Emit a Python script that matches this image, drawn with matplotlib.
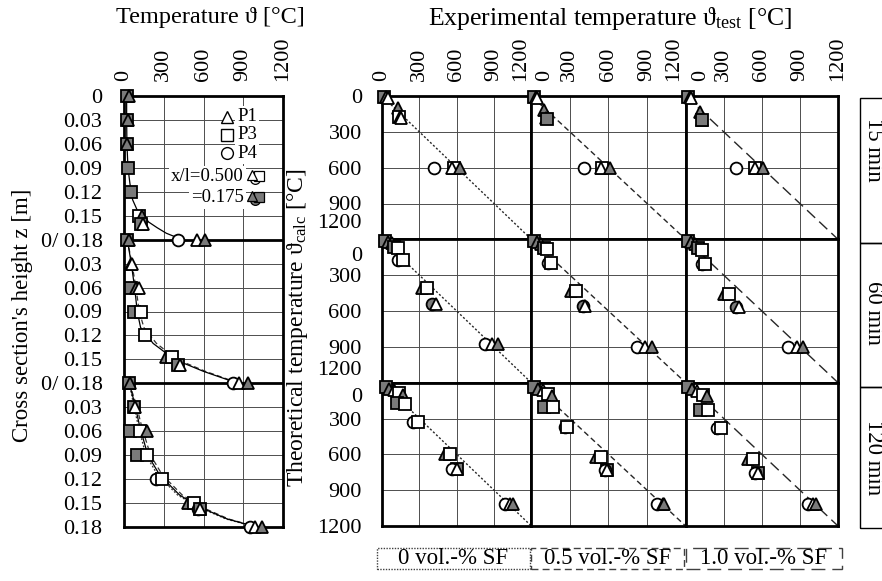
import matplotlib.pyplot as plt
from matplotlib.patches import Rectangle
from matplotlib.transforms import ScaledTranslation

plt.rcParams['font.family'] = ['Liberation Serif', 'DejaVu Serif']
plt.rcParams['mathtext.fontset'] = 'custom'
plt.rcParams['mathtext.rm'] = 'Liberation Serif'
plt.rcParams['mathtext.it'] = 'Liberation Serif:italic'
plt.rcParams['font.size'] = 16

# ---------------- data ----------------
times = ['15 min', '60 min', '120 min']
fibre_contents = ['0 vol.-% SF', '0.5 vol.-% SF', '1.0 vol.-% SF']
temp_ticks = [0, 300, 600, 900, 1200]
z_ticks = [0, 0.03, 0.06, 0.09, 0.12, 0.15, 0.18]

# measured profiles over the height: (x/l, sensor, z [m], T [°C])
profile_15 = [
    ('0.175', 'P3', 0.00, 25), ('0.175', 'P1', 0.00, 35),
    ('0.175', 'P3', 0.03, 25), ('0.175', 'P1', 0.03, 30),
    ('0.175', 'P3', 0.06, 20), ('0.175', 'P1', 0.06, 25),
    ('0.175', 'P3', 0.09, 30),
    ('0.175', 'P3', 0.12, 55),
    ('0.500', 'P3', 0.15, 110), ('0.175', 'P1', 0.15, 135),
    ('0.175', 'P3', 0.16, 125), ('0.500', 'P1', 0.16, 140),
    ('0.500', 'P4', 0.18, 410), ('0.500', 'P1', 0.18, 550), ('0.175', 'P1', 0.18, 610),
]
profile_60 = [
    ('0.175', 'P3', 0.00, 25), ('0.175', 'P1', 0.00, 35),
    ('0.175', 'P1', 0.03, 55), ('0.500', 'P1', 0.03, 62),
    ('0.175', 'P3', 0.06, 50), ('0.175', 'P1', 0.06, 90), ('0.500', 'P1', 0.06, 115),
    ('0.175', 'P3', 0.09, 77), ('0.500', 'P3', 0.09, 130),
    ('0.500', 'P3', 0.12, 160),
    ('0.175', 'P1', 0.147, 320), ('0.500', 'P3', 0.147, 360),
    ('0.175', 'P3', 0.157, 405), ('0.500', 'P1', 0.157, 420),
    ('0.500', 'P4', 0.18, 820), ('0.500', 'P1', 0.18, 870), ('0.175', 'P1', 0.18, 935),
]
profile_120 = [
    ('0.175', 'P3', 0.00, 40), ('0.175', 'P1', 0.00, 45),
    ('0.175', 'P3', 0.03, 75), ('0.500', 'P1', 0.03, 85),
    ('0.175', 'P3', 0.06, 45), ('0.500', 'P3', 0.06, 120), ('0.175', 'P1', 0.06, 175),
    ('0.175', 'P3', 0.09, 95), ('0.500', 'P3', 0.09, 170),
    ('0.500', 'P4', 0.12, 245), ('0.500', 'P3', 0.12, 285),
    ('0.175', 'P1', 0.15, 485), ('0.500', 'P3', 0.15, 525),
    ('0.500', 'P4', 0.158, 555), ('0.175', 'P3', 0.158, 575), ('0.500', 'P1', 0.158, 570),
    ('0.500', 'P4', 0.18, 950), ('0.500', 'P1', 0.18, 990), ('0.175', 'P1', 0.18, 1040),
]

# calculated profiles
curve_z_15 = [0, 0.03, 0.06, 0.09, 0.11, 0.13, 0.145, 0.155, 0.165, 0.172, 0.18]
curve_T_15 = [20, 20, 22, 30, 45, 65, 105, 160, 250, 320, 440]
curve_z_60 = [0, 0.03, 0.06, 0.09, 0.11, 0.13, 0.15, 0.165, 0.18]
curve_T_60_solid = [25, 55, 80, 100, 125, 220, 380, 600, 860]
curve_T_60_dashed = [25, 60, 90, 115, 150, 245, 400, 615, 870]
curve_z_120 = [0, 0.025, 0.055, 0.09, 0.115, 0.14, 0.155, 0.17, 0.18]
curve_T_120_solid = [40, 80, 120, 180, 270, 420, 570, 780, 1000]
curve_T_120_dashed = [40, 90, 135, 200, 290, 440, 585, 790, 1005]
curve_T_120_dotted = [40, 70, 110, 165, 255, 405, 560, 770, 995]

# experimental vs. theoretical: (x/l, sensor, T_test, T_calc)
cmp_15_sf00 = [
    ('0.175', 'P3', 20, 5), ('0.175', 'P1', 35, 10), ('0.500', 'P1', 45, 15),
    ('0.175', 'P1', 130, 100), ('0.500', 'P3', 135, 175), ('0.175', 'P1', 145, 175),
    ('0.500', 'P1', 150, 185),
    ('0.500', 'P4', 420, 600), ('0.500', 'P3', 575, 600), ('0.500', 'P1', 565, 600),
    ('0.175', 'P1', 630, 600),
]
cmp_15_sf05 = [
    ('0.175', 'P3', 20, 5), ('0.175', 'P1', 35, 10), ('0.500', 'P1', 45, 15),
    ('0.175', 'P1', 100, 115), ('0.500', 'P1', 115, 185), ('0.175', 'P3', 120, 190),
    ('0.500', 'P4', 413, 600), ('0.500', 'P3', 550, 600), ('0.500', 'P1', 545, 600),
    ('0.175', 'P1', 610, 600),
]
cmp_15_sf10 = [
    ('0.175', 'P3', 20, 5), ('0.175', 'P1', 35, 10), ('0.500', 'P1', 45, 15),
    ('0.175', 'P1', 110, 130), ('0.500', 'P1', 125, 200), ('0.175', 'P3', 130, 205),
    ('0.500', 'P4', 400, 600), ('0.500', 'P3', 550, 600), ('0.500', 'P1', 545, 600),
    ('0.175', 'P1', 610, 600),
]
cmp_60_sf00 = [
    ('0.175', 'P3', 25, 10), ('0.175', 'P1', 50, 20), ('0.500', 'P1', 80, 30),
    ('0.175', 'P3', 100, 60), ('0.500', 'P3', 130, 70),
    ('0.500', 'P4', 130, 175), ('0.500', 'P3', 170, 175),
    ('0.175', 'P1', 320, 405), ('0.500', 'P3', 360, 405),
    ('0.175', 'P4', 400, 545), ('0.500', 'P1', 430, 545),
    ('0.500', 'P4', 830, 880), ('0.500', 'P1', 885, 880), ('0.175', 'P1', 935, 880),
]
cmp_60_sf05 = [
    ('0.175', 'P3', 20, 10), ('0.175', 'P1', 45, 20), ('0.500', 'P1', 75, 35),
    ('0.175', 'P3', 95, 70), ('0.500', 'P3', 125, 80),
    ('0.500', 'P4', 130, 195), ('0.500', 'P3', 155, 195),
    ('0.175', 'P1', 310, 435), ('0.500', 'P3', 350, 435),
    ('0.175', 'P4', 400, 560), ('0.500', 'P1', 420, 560),
    ('0.500', 'P4', 825, 900), ('0.500', 'P1', 880, 900), ('0.175', 'P1', 935, 900),
]
cmp_60_sf10 = [
    ('0.175', 'P3', 20, 10), ('0.175', 'P1', 45, 25), ('0.500', 'P1', 75, 40),
    ('0.175', 'P3', 95, 75), ('0.500', 'P3', 125, 90),
    ('0.500', 'P4', 130, 210), ('0.500', 'P3', 150, 210),
    ('0.175', 'P1', 305, 460), ('0.500', 'P3', 345, 460),
    ('0.175', 'P4', 400, 570), ('0.500', 'P1', 420, 570),
    ('0.500', 'P4', 805, 900), ('0.500', 'P1', 875, 900), ('0.175', 'P1', 925, 900),
]
cmp_120_sf00 = [
    ('0.175', 'P3', 30, 40), ('0.175', 'P1', 60, 50), ('0.500', 'P1', 100, 60),
    ('0.500', 'P3', 140, 90), ('0.175', 'P1', 170, 100),
    ('0.175', 'P3', 120, 170), ('0.500', 'P3', 185, 175),
    ('0.500', 'P4', 250, 330), ('0.500', 'P3', 290, 330),
    ('0.175', 'P1', 510, 595), ('0.500', 'P3', 545, 595),
    ('0.175', 'P3', 600, 720), ('0.500', 'P4', 565, 720), ('0.500', 'P1', 600, 720),
    ('0.500', 'P4', 990, 1015), ('0.500', 'P1', 1030, 1015), ('0.175', 'P1', 1055, 1015),
]
cmp_120_sf05 = [
    ('0.175', 'P3', 20, 40), ('0.175', 'P1', 50, 50), ('0.500', 'P1', 90, 65),
    ('0.500', 'P3', 130, 95), ('0.175', 'P1', 160, 110),
    ('0.175', 'P3', 100, 200), ('0.500', 'P3', 165, 200),
    ('0.500', 'P4', 260, 370), ('0.500', 'P3', 280, 370),
    ('0.175', 'P1', 505, 625), ('0.500', 'P3', 545, 625),
    ('0.175', 'P3', 590, 735), ('0.500', 'P4', 570, 735), ('0.500', 'P1', 590, 735),
    ('0.500', 'P4', 975, 1015), ('0.500', 'P1', 1020, 1015), ('0.175', 'P1', 1035, 1015),
]
cmp_120_sf10 = [
    ('0.175', 'P3', 20, 40), ('0.175', 'P1', 50, 55), ('0.500', 'P1', 90, 70),
    ('0.500', 'P3', 140, 100), ('0.175', 'P1', 170, 115),
    ('0.175', 'P3', 110, 230), ('0.500', 'P3', 175, 230),
    ('0.500', 'P4', 250, 380), ('0.500', 'P3', 275, 380),
    ('0.175', 'P1', 490, 635), ('0.500', 'P3', 530, 635),
    ('0.175', 'P3', 570, 755), ('0.500', 'P4', 545, 755), ('0.500', 'P1', 570, 755),
    ('0.500', 'P4', 960, 1015), ('0.500', 'P1', 1000, 1015), ('0.175', 'P1', 1030, 1015),
]

# ---------------- styles ----------------
MARKERS = {'P1': '^', 'P3': 's', 'P4': 'o'}
FILLS = {'0.500': 'white', '0.175': '#7a7a7a'}
DIAG_STYLES = [(0, (1.5, 1.5)), (0, (4, 2.5)), (0, (8, 4))]
GRID = dict(color='0.3', lw=0.7)


def draw_point(ax, x, y, xl, sensor, ms=8.5, **kw):
    ax.plot(x, y, ls='none', marker=MARKERS[sensor], ms=ms, mfc=FILLS[xl],
            mec='black', mew=1.3, clip_on=False, zorder=4, **kw)


def shift(label, dx, dy, fig):
    # move a tick label by (dx, dy) pixels, positive dy = down
    label.set_transform(label.get_transform() +
                        ScaledTranslation(dx / 100, -dy / 100, fig.dpi_scale_trans))


fig = plt.figure(figsize=(8.82, 5.81), dpi=100)
W, H = 882, 581

# ---------------- left panel: profiles over the height ----------------
ax_l = fig.add_axes([124 / W, 1 - 527 / H, 159 / W, 431 / H])
ax_l.set_xlim(0, 1200)
ax_l.set_ylim(0.54, 0)
ax_l.set_xticks(temp_ticks)
ax_l.set_xticklabels([str(t) for t in temp_ticks])
ypos, ylab = [], []
for b in range(3):
    for z in z_ticks[:-1]:
        ypos.append(z + 0.18 * b)
        ylab.append('0' if z == 0 else f'{z:.2f}')
ypos.append(0.54)
ylab.append('0.18')
ylab[6] = '0/ 0.18'
ylab[12] = '0/ 0.18'
ax_l.set_yticks(ypos)
ax_l.set_yticklabels(ylab)
ax_l.xaxis.tick_top()
ax_l.tick_params(axis='x', length=0, pad=11, labelrotation=90)
ax_l.tick_params(axis='y', length=0, pad=15.5)
ax_l.grid(True, **GRID)
for sp in ax_l.spines.values():
    sp.set_linewidth(2)
ax_l.axhline(0.18, color='black', lw=2, zorder=3)
ax_l.axhline(0.36, color='black', lw=2, zorder=3)

ax_l.plot(curve_T_15, curve_z_15, color='black', lw=0.9, zorder=2)
ax_l.plot(curve_T_60_dashed, [z + 0.18 for z in curve_z_60], color='0.2', lw=0.9,
          ls=(0, (4, 2.5)), zorder=2)
ax_l.plot(curve_T_60_solid, [z + 0.18 for z in curve_z_60], color='black', lw=0.9, zorder=2)
ax_l.plot(curve_T_120_dashed, [z + 0.36 for z in curve_z_120], color='0.2', lw=0.9,
          ls=(0, (4, 2.5)), zorder=2)
ax_l.plot(curve_T_120_dotted, [z + 0.36 for z in curve_z_120], color='0.2', lw=0.9,
          ls=(0, (1.5, 1.5)), zorder=2)
ax_l.plot(curve_T_120_solid, [z + 0.36 for z in curve_z_120], color='black', lw=0.9, zorder=2)

for b, prof in enumerate([profile_15, profile_60, profile_120]):
    for xl, sensor, z, T in prof:
        draw_point(ax_l, T, z + 0.18 * b, xl, sensor)


# legend inside the left panel
def lx(px):
    return (px - 124) / 159


def ly(py):
    return 1 - (py - 96) / 431


for sensor, py in [('P1', 117), ('P3', 135), ('P4', 153)]:
    ax_l.plot(lx(227), ly(py), transform=ax_l.transAxes, ls='none',
              marker=MARKERS[sensor], ms=8.5, mfc='white', mec='black', mew=1.0,
              zorder=6, clip_on=False)
    ax_l.text(lx(237), ly(py), sensor, transform=ax_l.transAxes, fontsize=13.5,
              va='center', ha='left', zorder=5,
              bbox=dict(fc='white', ec='none', pad=1.5))
for xl, txt, py in [('0.500', 'x/l=0.500', 177), ('0.175', '=0.175', 198)]:
    ax_l.text(lx(244), ly(py), txt, transform=ax_l.transAxes, fontsize=13.5,
              va='center', ha='right', zorder=5,
              bbox=dict(fc='white', ec='none', pad=1.5))
    for sensor, dx, dy in [('P4', 0, 2), ('P3', 4, -1), ('P1', -3, -2)]:
        ax_l.plot(lx(255 + dx), ly(py + dy), transform=ax_l.transAxes, ls='none',
                  marker=MARKERS[sensor], ms=7, mfc=FILLS[xl], mec='black', mew=0.9,
                  zorder=6, clip_on=False)

# ---------------- right panel: experimental vs. theoretical ----------------
comparisons = [[cmp_15_sf00, cmp_15_sf05, cmp_15_sf10],
               [cmp_60_sf00, cmp_60_sf05, cmp_60_sf10],
               [cmp_120_sf00, cmp_120_sf05, cmp_120_sf10]]

gs = fig.add_gridspec(3, 3, left=382 / W, right=838 / W, top=1 - 96 / H,
                      bottom=1 - 526 / H, wspace=0, hspace=0,
                      width_ratios=[149, 154, 152])
x_label_shift = [{4: -11}, {0: 13, 4: -12}, {0: 15}]
y_label_shift = [{4: -18}, {0: 15, 4: -15}, {0: 12}]

for r in range(3):
    for c in range(3):
        ax = fig.add_subplot(gs[r, c])
        ax.set_xlim(0, 1200)
        ax.set_ylim(1200, 0)
        ax.set_xticks(temp_ticks)
        ax.set_yticks(temp_ticks)
        ax.set_xticklabels([str(t) for t in temp_ticks])
        ax.set_yticklabels([str(t) for t in temp_ticks])
        ax.grid(True, **GRID)
        ax.tick_params(axis='both', length=0, bottom=False, top=False,
                       labelbottom=False, labeltop=(r == 0), labelleft=(c == 0))
        ax.tick_params(axis='x', pad=11, labelrotation=90)
        ax.tick_params(axis='y', pad=14.5)
        for sp in ax.spines.values():
            sp.set_linewidth(2)
        ax.plot([0, 1200], [0, 1200], color='0.15', lw=1, ls=DIAG_STYLES[c], zorder=2)
        for xl, sensor, test, calc in comparisons[r][c]:
            draw_point(ax, test, calc, xl, sensor)
        if r == 0:
            ticks = ax.xaxis.get_major_ticks()
            for i, dx in x_label_shift[c].items():
                shift(ticks[i].label2, dx, 0, fig)
        if c == 0:
            ticks = ax.yaxis.get_major_ticks()
            for i, dy in y_label_shift[r].items():
                shift(ticks[i].label1, 0, dy, fig)

# ---------------- axis titles ----------------
fig.text(210 / W, 1 - 18 / H, 'Temperature ϑ [°C]', ha='center', va='center',
         fontsize=17.5)
fig.text(610 / W, 1 - 18 / H, 'Experimental temperature ϑ$_{\\mathrm{test}}$ [°C]',
         ha='center', va='center', fontsize=18.5)
fig.text(23 / W, 1 - 315 / H, "Cross section's height z [m]", rotation=90,
         ha='center', va='center', fontsize=16.5)
fig.text(298 / W, 1 - 328 / H, 'Theoretical temperature ϑ$_{\\mathrm{calc}}$ [°C]',
         rotation=90, ha='center', va='center', fontsize=17)

# ---------------- time boxes on the right ----------------
for (top, bottom), label, cy in zip([(98, 243), (243, 387), (387, 528)], times,
                                    [150, 313, 458]):
    fig.add_artist(Rectangle((860 / W, 1 - bottom / H), 40 / W, (bottom - top) / H,
                             transform=fig.transFigure, fill=False, lw=1,
                             ec='black'))
    fig.text(873 / W, 1 - cy / H, label, rotation=-90, ha='center', va='center',
             fontsize=16.5)

# ---------------- fibre content boxes at the bottom ----------------
for (x0, x1), label, ls in zip([(377, 530), (531, 684), (686, 842)], fibre_contents,
                               [(0, (1, 1)), (0, (5, 3)), (0, (10, 5))]):
    fig.add_artist(Rectangle((x0 / W, 1 - 569 / H), (x1 - x0) / W, 21 / H,
                             transform=fig.transFigure, fill=False, lw=1,
                             ec='0.25', ls=ls))
    fig.text((x0 + x1) / 2 / W, 1 - 559 / H, label, ha='center', va='center',
             fontsize=16.5)

fig.savefig('out.png', dpi=100)
